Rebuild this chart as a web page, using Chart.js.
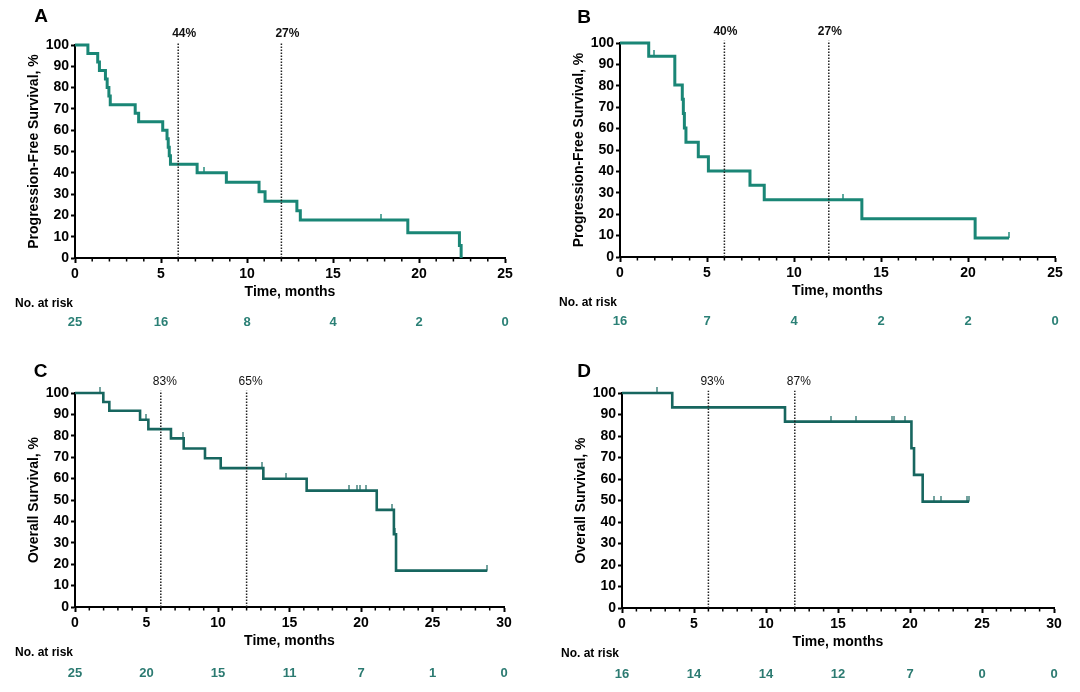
<!DOCTYPE html>
<html>
<head>
<meta charset="utf-8">
<script src="https://cdn.jsdelivr.net/npm/chart.js@4"></script>
<style>
  body { margin: 0; background: #fff; width: 1080px; height: 692px; position: relative; overflow: hidden; }
  canvas { position: absolute; }
</style>
</head>
<body>
<canvas id="chartA" width="540" height="346" style="left:0;top:0"></canvas>
<canvas id="chartB" width="540" height="346" style="left:540px;top:0"></canvas>
<canvas id="chartC" width="540" height="346" style="left:0;top:346px"></canvas>
<canvas id="chartD" width="540" height="346" style="left:540px;top:346px"></canvas>
<script>
// A: progression-free survival, cohort 1
const timesA = [0, 0.75, 1.32, 1.42, 1.77, 1.87, 1.97, 2.05, 3.5, 3.7, 5.1, 5.35, 5.42, 5.48, 5.55, 7.1, 8.8, 10.7, 11.05, 12.9, 13.1, 19.35, 22.35, 22.45];
const survA = [100, 96, 92, 88, 84, 80, 76, 72, 68, 64, 60, 56, 52, 48, 44, 40, 35.6, 31.1, 26.7, 22.2, 17.8, 11.9, 5.9, 0];
const censorA = [7.5, 17.77];
const riskA = [25, 16, 8, 4, 2, 0];
const marksA = ['44%', '27%'];

// B: progression-free survival, cohort 2
const timesB = [0, 1.65, 3.15, 3.58, 3.64, 3.70, 3.79, 4.5, 5.08, 7.47, 8.29, 13.9, 20.41, 22.36];
const survB = [100, 93.8, 80.4, 73.7, 67.0, 60.3, 53.6, 46.9, 40.2, 33.5, 26.8, 17.9, 8.9, 8.9];
const censorB = [1.95, 12.81, 22.36];
const riskB = [16, 7, 4, 2, 2, 0];
const marksB = ['40%', '27%'];

// C: overall survival, cohort 1
const timesC = [0, 1.98, 2.4, 4.55, 5.13, 6.71, 7.6, 9.09, 10.19, 13.17, 16.2, 21.1, 22.3, 22.45, 28.83];
const survC = [100, 95.8, 91.7, 87.5, 83.1, 78.8, 74.1, 69.5, 64.9, 59.9, 54.4, 45.4, 34.0, 17.0, 17.0];
const censorC = [1.75, 4.97, 7.55, 13.1, 14.73, 19.18, 19.74, 19.93, 20.33, 22.19, 22.38, 28.83];
const riskC = [25, 20, 15, 11, 7, 1, 0];
const marksC = ['83%', '65%'];

// D: overall survival, cohort 2
const timesD = [0, 3.49, 11.32, 20.1, 20.28, 20.88, 24.1];
const survD = [100, 93.3, 86.7, 74.3, 61.9, 49.5, 49.5];
const censorD = [2.43, 14.5, 16.23, 18.75, 18.9, 19.65, 21.65, 22.15, 23.95, 24.1];
const riskD = [16, 14, 14, 12, 7, 0, 0];
const marksD = ['93%', '87%'];

const markMonths = [6, 12];
const FONT = "'Liberation Sans', Arial, sans-serif";

// survival value at time t from a step curve
function survAt(times, surv, t) {
    let s = surv[0];
    for (let i = 0; i < times.length; i++) {
        if (times[i] <= t) s = surv[i];
    }
    return s;
}

// small upward tick used as censor mark
function censorTick(color) {
    const c = document.createElement('canvas');
    c.width = 2;
    c.height = 12;
    const g = c.getContext('2d');
    g.fillStyle = color;
    g.fillRect(0, 0, 2, 6);
    return c;
}

const panelDecor = {
    id: 'panelDecor',
    afterDraw(chart, args, o) {
        const {ctx, chartArea} = chart;
        const x = chart.scales.x;
        ctx.save();

        // minor ticks every month
        ctx.strokeStyle = '#000';
        ctx.lineWidth = 1.5;
        for (let v = 1; v < x.max; v++) {
            if (v % 5 === 0) continue;
            const px = x.getPixelForValue(v);
            ctx.beginPath();
            ctx.moveTo(px, chartArea.bottom);
            ctx.lineTo(px, chartArea.bottom + 3.5);
            ctx.stroke();
        }

        // percentages above the dotted lines
        ctx.fillStyle = '#111';
        ctx.font = o.markWeight + ' 12px ' + FONT;
        ctx.textAlign = 'center';
        ctx.textBaseline = 'middle';
        o.marks.forEach((m, i) => {
            ctx.fillText(m, x.getPixelForValue(markMonths[i]) + o.markShift, chartArea.top - 11.5);
        });

        // number at risk
        ctx.textAlign = 'left';
        ctx.fillStyle = '#000';
        ctx.font = 'bold 12px ' + FONT;
        ctx.fillText('No. at risk', o.riskLeft, chartArea.bottom + 45.5);
        ctx.textAlign = 'center';
        ctx.fillStyle = o.riskColor;
        ctx.font = 'bold 13px ' + FONT;
        o.risk.forEach((n, i) => {
            ctx.fillText(String(n), x.getPixelForValue(i * 5), chartArea.bottom + o.riskY);
        });

        // panel letter
        ctx.fillStyle = '#000';
        ctx.font = 'bold 19px ' + FONT;
        ctx.fillText(o.letter, o.letterX, o.letterY);
        ctx.restore();
    }
};

function makePanel(id, p) {
    const W = 540, H = 346;
    const curve = p.times.map((t, i) => ({x: t, y: p.surv[i]}));
    const cens = p.censor.map(t => ({x: t, y: survAt(p.times, p.surv, t)}));
    const dotted = markMonths.map(m => ({
        type: 'line',
        data: [{x: m, y: 0}, {x: m, y: 101}],
        borderColor: '#222',
        borderWidth: 1.5,
        borderDash: [1.4, 1.6],
        pointRadius: 0,
        clip: false,
        order: 0
    }));

    new Chart(document.getElementById(id), {
        type: 'line',
        data: {
            datasets: [
                {
                    data: curve,
                    borderColor: p.color,
                    borderWidth: p.lineWidth,
                    stepped: 'before',
                    borderJoinStyle: 'miter',
                    pointRadius: 0,
                    clip: false,
                    order: 2
                },
                {
                    type: 'scatter',
                    data: cens,
                    pointStyle: censorTick(p.tickColor),
                    pointRadius: 3,
                    showLine: false,
                    clip: false,
                    order: 1
                },
                ...dotted
            ]
        },
        options: {
            responsive: false,
            animation: false,
            events: [],
            layout: {padding: {left: 0, top: p.area.top, right: W - p.area.right, bottom: 0}},
            plugins: {
                legend: {display: false},
                tooltip: {enabled: false},
                panelDecor: {
                    marks: p.marks, markShift: p.markShift, markWeight: p.markWeight,
                    risk: p.risk, riskColor: p.riskColor, riskLeft: p.riskLeft, riskY: p.riskY,
                    letter: p.letter, letterX: p.letterX, letterY: p.letterY
                }
            },
            scales: {
                x: {
                    type: 'linear',
                    min: 0,
                    max: p.xMax,
                    border: {color: '#000', width: 2},
                    grid: {drawOnChartArea: false, drawTicks: true, tickLength: 5, tickWidth: 2, tickColor: '#000'},
                    ticks: {stepSize: 5, padding: 3, color: '#000', font: {family: FONT, size: 14, weight: 'bold'}, maxRotation: 0},
                    title: {
                        display: true,
                        text: 'Time, months',
                        color: '#000',
                        font: {family: FONT, size: 14, weight: 'bold'},
                        padding: {top: 0, bottom: H - p.area.bottom - 34.5 - 8.4}
                    },
                    afterFit(s) {
                        s.height = H - p.area.bottom;
                        s.paddingLeft = 0;
                        s.paddingRight = 0;
                    }
                },
                y: {
                    min: 0,
                    max: 100,
                    border: {color: '#000', width: 2},
                    grid: {drawOnChartArea: false, drawTicks: true, tickLength: 4, tickWidth: 2, tickColor: '#000'},
                    ticks: {stepSize: 10, padding: 2, color: '#000', font: {family: FONT, size: 14, weight: 'bold'}},
                    title: {
                        display: true,
                        text: p.yTitle,
                        color: '#000',
                        font: {family: FONT, size: 14, weight: 'bold'},
                        padding: {top: p.titleX - 8.4, bottom: 0}
                    },
                    afterFit(s) {
                        s.width = p.area.left;
                        s.paddingTop = 0;
                        s.paddingBottom = 0;
                    }
                }
            }
        },
        plugins: [panelDecor]
    });
}

const tealA = '#1a8676';
const tealC = '#17665f';

makePanel('chartA', {
    times: timesA, surv: survA, censor: censorA, risk: riskA, marks: marksA,
    xMax: 25, yTitle: 'Progression-Free Survival, %', letter: 'A',
    area: {left: 75, right: 505, top: 45, bottom: 258},
    color: tealA, tickColor: 'rgba(26,134,118,0.7)', lineWidth: 3, riskColor: '#2b8076',
    markShift: 6, markWeight: 'bold', riskLeft: 15, riskY: 64, titleX: 34.5, letterX: 41, letterY: 17
});
makePanel('chartB', {
    times: timesB, surv: survB, censor: censorB, risk: riskB, marks: marksB,
    xMax: 25, yTitle: 'Progression-Free Survival, %', letter: 'B',
    area: {left: 80, right: 515, top: 43, bottom: 257},
    color: tealA, tickColor: 'rgba(26,134,118,0.7)', lineWidth: 3, riskColor: '#2b8076',
    markShift: 1, markWeight: 'bold', riskLeft: 19, riskY: 64, titleX: 38.8, letterX: 44, letterY: 17.5
});
makePanel('chartC', {
    times: timesC, surv: survC, censor: censorC, risk: riskC, marks: marksC,
    xMax: 30, yTitle: 'Overall Survival, %', letter: 'C',
    area: {left: 75, right: 504, top: 47, bottom: 261},
    color: tealC, tickColor: 'rgba(23,102,95,0.6)', lineWidth: 2.6, riskColor: '#2b7a71',
    markShift: 4, markWeight: 'normal', riskLeft: 15, riskY: 66.5, titleX: 34, letterX: 40.5, letterY: 25.5
});
makePanel('chartD', {
    times: timesD, surv: survD, censor: censorD, risk: riskD, marks: marksD,
    xMax: 30, yTitle: 'Overall Survival, %', letter: 'D',
    area: {left: 82, right: 514, top: 47, bottom: 262},
    color: tealC, tickColor: 'rgba(23,102,95,0.6)', lineWidth: 2.6, riskColor: '#2b7a71',
    markShift: 4, markWeight: 'normal', riskLeft: 21, riskY: 66.5, titleX: 41.5, letterX: 44, letterY: 25.5
});
</script>
</body>
</html>
